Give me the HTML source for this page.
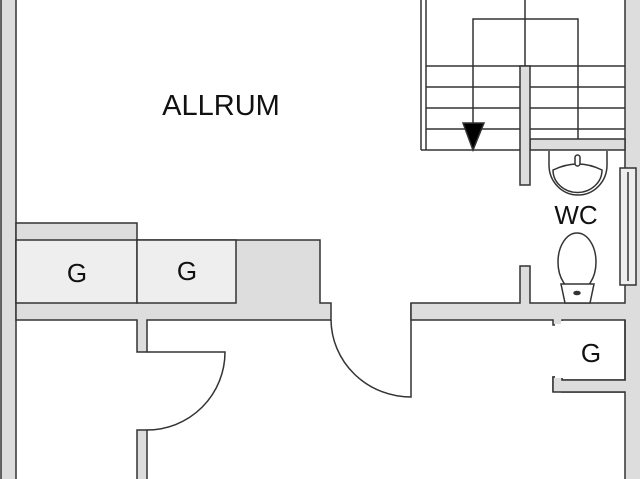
<!DOCTYPE html>
<html><head><style>body{margin:0;background:#fff}svg{display:block}</style></head>
<body>
<svg width="640" height="479" viewBox="0 0 640 479" xmlns="http://www.w3.org/2000/svg" font-family="Liberation Sans, sans-serif">
<g stroke="#333" stroke-width="1.5">
<!-- left outer wall -->
<rect x="1" y="-2" width="15" height="483" fill="#ddd"/>
<path d="M16 223 H137 V240 H320 V303 H331 V320 H147 V352 H137 V320 H16 Z" fill="#ddd"/>
<rect x="16" y="240" width="121" height="63" fill="#eee"/>
<rect x="137" y="240" width="99" height="63" fill="#eee"/>
<rect x="137" y="430" width="10" height="52" fill="#ddd"/>
<path d="M147 352 H225 A78 78 0 0 1 147 430" fill="none"/>
<!-- center door -->
<path d="M331 320 A80 78 0 0 0 411 397 V303" fill="none"/>
<!-- right walls -->
<path d="M411 303 H520 V266 H530 V303 H625 V-2 H641 V481 H625 V392 H562 V377 H553 V392 H553 V380 H625 V320 H562 V325 H553 V320 H411 Z" fill="#ddd"/>
<path d="M625 320 V380 H562 V377 H553 V392 H625" fill="#ddd"/>
<rect x="555" y="321" width="68" height="57" fill="#fff" stroke="none"/>
<rect x="554" y="321" width="7" height="3" fill="#ddd" stroke="none"/>
<!-- window -->
<rect x="620" y="168" width="16" height="117" fill="#eee"/>
<line x1="628" y1="172" x2="628" y2="281"/>
<!-- stairs -->
<line x1="421" y1="0" x2="421" y2="150"/>
<line x1="426" y1="0" x2="426" y2="150"/>
<line x1="421" y1="150" x2="520" y2="150"/>
<line x1="426" y1="66" x2="625" y2="66"/>
<line x1="426" y1="87" x2="625" y2="87"/>
<line x1="426" y1="108" x2="625" y2="108"/>
<line x1="426" y1="129" x2="625" y2="129"/>
<path d="M473 150 V19 H578 V139" fill="none"/>
<line x1="525" y1="0" x2="525" y2="66"/>
<path d="M530 139 H625 V150 H530 Z" fill="#ddd"/>
<rect x="520" y="66" width="10" height="119" fill="#ddd"/>
<path d="M463 123 H484 L473 150 Z" fill="#000"/>
<!-- sink -->
<path d="M549 151 V165 A29 30 0 0 0 607 165 V151" fill="none"/>
<path d="M553 170 A24 22 0 0 0 602 170 Q578 158 553 170 Z" fill="none"/>
<rect x="575" y="155" width="5" height="11" rx="2.5" fill="#fff"/>
<!-- toilet -->
<ellipse cx="577" cy="262" rx="19" ry="29" fill="#fff"/>
<path d="M561 284 H594 L590 303 H565 Z" fill="#fff"/>
<ellipse cx="577" cy="293" rx="3" ry="1.5" fill="#333"/>
</g>
<g fill="#111" text-anchor="middle">
<text x="221" y="115" font-size="29">ALLRUM</text>
<text x="77" y="282" font-size="26">G</text>
<text x="187" y="280" font-size="26">G</text>
<text x="576" y="224" font-size="26">WC</text>
<text x="591" y="362" font-size="26">G</text>
</g>
</svg>
</body></html>
